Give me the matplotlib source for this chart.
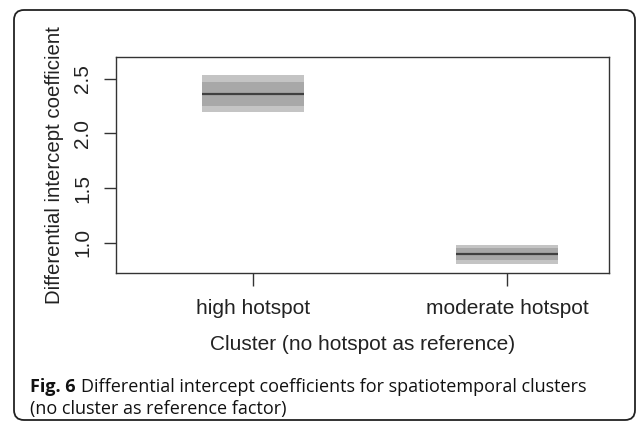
import numpy as np
import matplotlib
matplotlib.use('Agg')
import matplotlib.pyplot as plt
import matplotlib.patches as mpatches
from matplotlib.transforms import IdentityTransform

# values
categories = ['high hotspot', 'moderate hotspot']
median = [2.365, 0.897]
outer_lo = [2.192, 0.802]
outer_hi = [2.537, 0.979]
inner_lo = [2.255, 0.842]
inner_hi = [2.475, 0.949]
yticks = [1.0, 1.5, 2.0, 2.5]

plt.rcParams['font.family'] = 'Liberation Sans'

fig = plt.figure(figsize=(6.38, 4.23), dpi=100)
ax = fig.add_axes([116/638, 1-273/423, 493/638, 216/423])

x = np.arange(1, len(categories) + 1)
lo = np.array(outer_lo); hi = np.array(outer_hi)
ax.bar(x, hi - lo, bottom=lo, width=0.4, color='#c4c4c4', linewidth=0)
lo = np.array(inner_lo); hi = np.array(inner_hi)
ax.bar(x, hi - lo, bottom=lo, width=0.4, color='#a8a8a8', linewidth=0)
ax.hlines(median, x - 0.2, x + 0.2, color='#404040', linewidth=1.6)

ax.set_xlim(0.461, 2.402)
ax.set_ylim(0.722, 2.70)
ax.set_xticks(x)
ax.set_xticklabels(categories, fontsize=15, color='#222222')
ax.set_yticks(yticks)
ax.set_yticklabels(['%.1f' % v for v in yticks], fontsize=15, color='#222222',
                   rotation=90, va='center')
ax.tick_params(axis='both', length=9, width=1.0, color='#333333')
ax.tick_params(axis='x', pad=10)
ax.tick_params(axis='y', pad=8)
for s in ax.spines.values():
    s.set_color('#333333')
    s.set_linewidth(1.0)

ax.set_xlabel('Cluster (no hotspot as reference)', fontsize=15, color='#222222', labelpad=12)
ax.set_ylabel('Differential intercept coefficient', fontsize=14.7, color='#222222', labelpad=7)

# rounded frame around the figure
frame = mpatches.FancyBboxPatch((14, 3), 621, 410, boxstyle='round,pad=0,rounding_size=10',
                                transform=IdentityTransform(), facecolor='none',
                                edgecolor='#222222', linewidth=1.3)
fig.patches.append(frame)

# caption
cap_font = 'Open Sans'
t1 = fig.text(30/638, 1-387/423, 'Fig. 6', fontsize=13, fontweight='bold',
              family=cap_font, va='center', color='#111111')
fig.canvas.draw()
bb = t1.get_window_extent()
fig.text((bb.x1 + 5)/638, 1-387/423,
         'Differential intercept coefficients for spatiotemporal clusters',
         fontsize=13, family=cap_font, va='center', color='#111111')
fig.text(30/638, 1-409/423, '(no cluster as reference factor)', fontsize=13,
         family=cap_font, va='center', color='#111111')

fig.savefig('out.png', dpi=100)
